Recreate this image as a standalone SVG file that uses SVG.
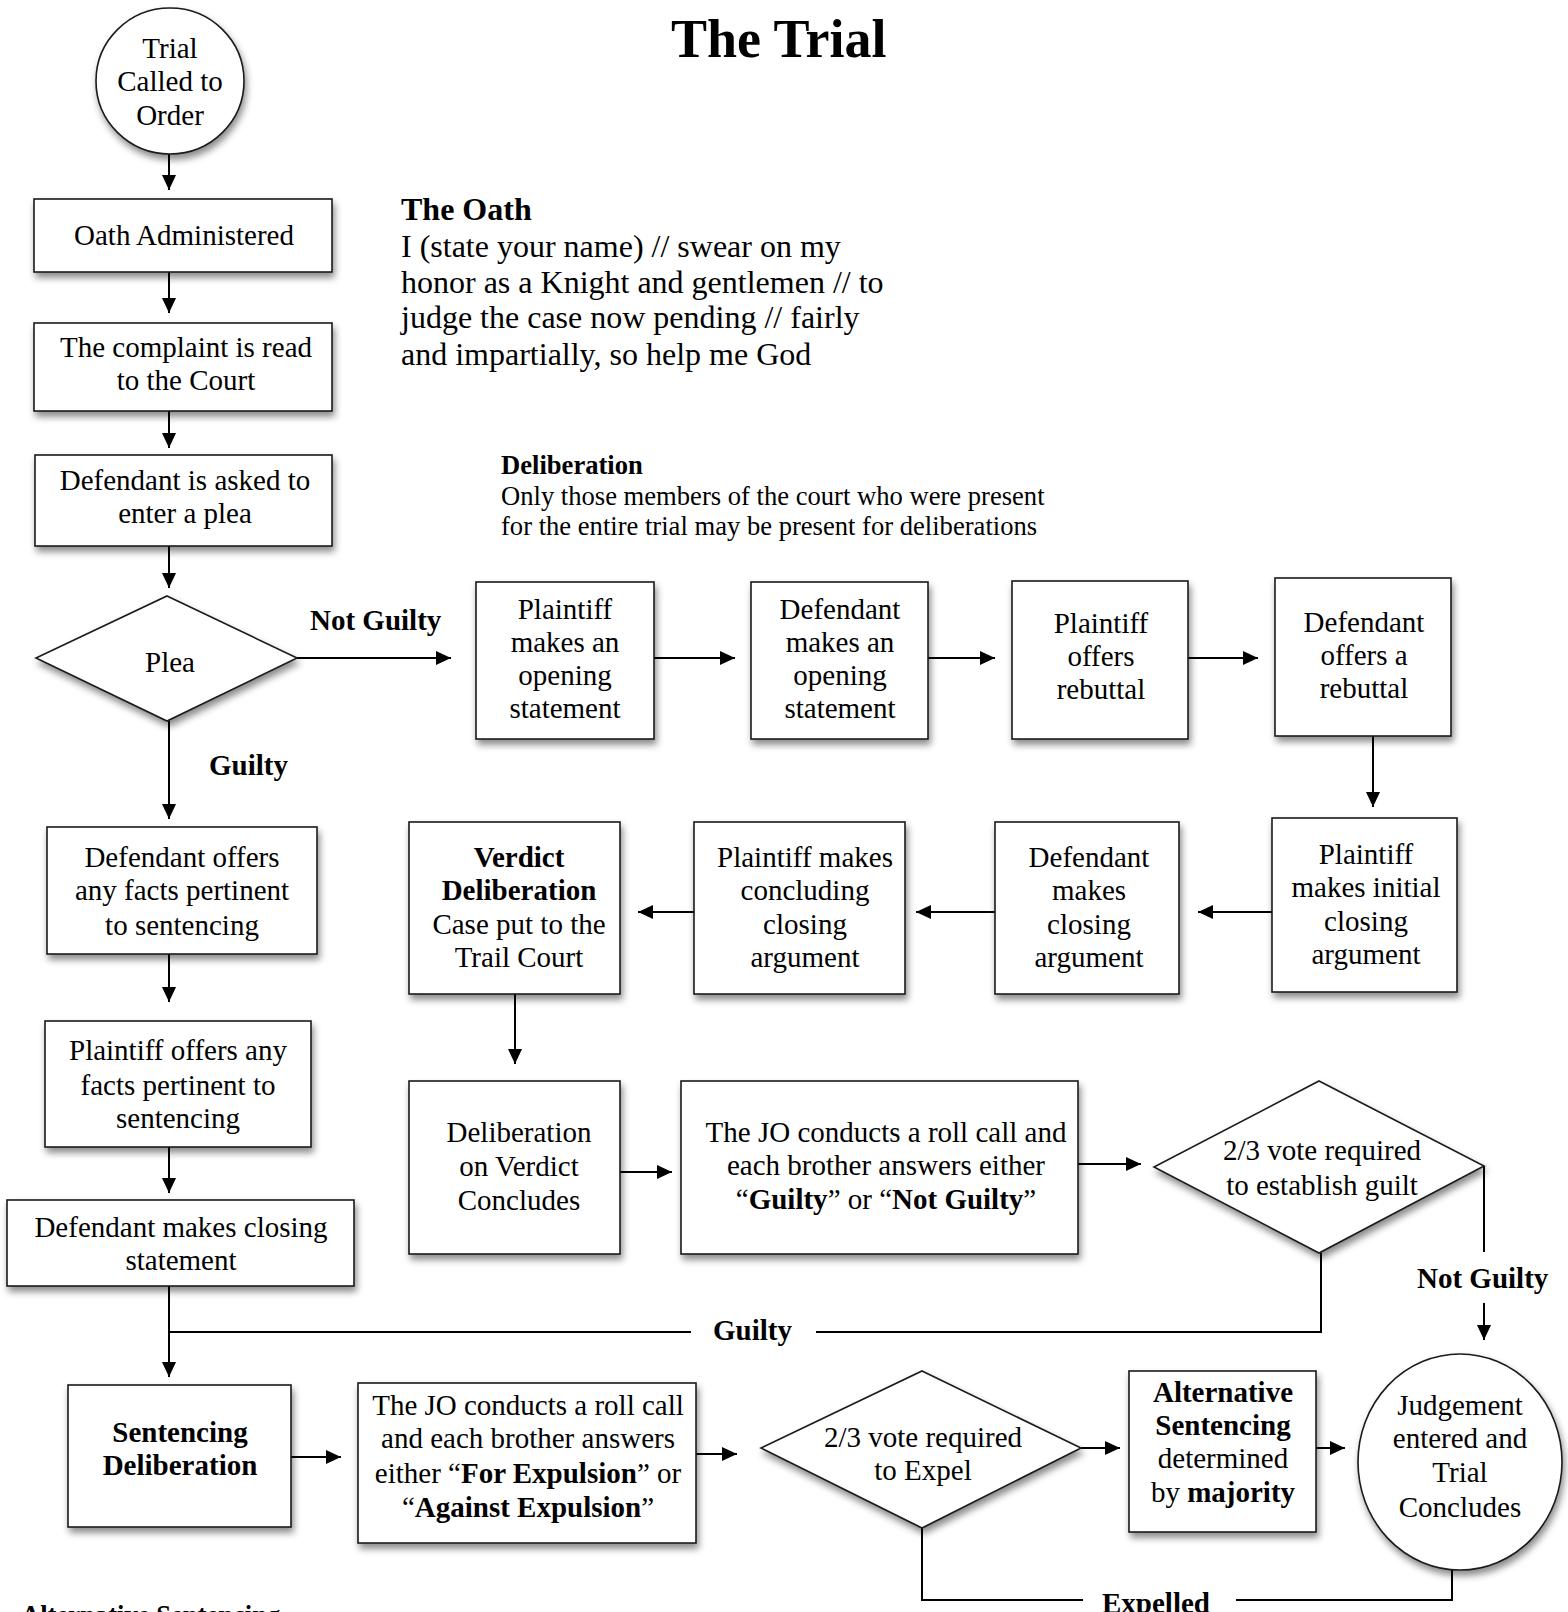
<svg xmlns="http://www.w3.org/2000/svg" width="1568" height="1612" viewBox="0 0 1568 1612">
<defs>
<filter id="sh" x="-10%" y="-10%" width="125%" height="130%">
<feDropShadow dx="2" dy="5" stdDeviation="3.5" flood-color="#000" flood-opacity="0.45"/>
</filter>
<marker id="ah" markerUnits="userSpaceOnUse" markerWidth="16" markerHeight="14" refX="15" refY="7" orient="auto">
<path d="M0,0 L15,7 L0,14 z" fill="#000"/>
</marker>
</defs>
<style>
.box{fill:#fff;stroke:#1a1a1a;stroke-width:1.6;filter:url(#sh)}
.t{font-family:"Liberation Serif","Times New Roman",serif;font-size:29px;text-anchor:middle;fill:#000}
.b{font-weight:bold}
.lbl{font-family:"Liberation Serif","Times New Roman",serif;font-size:29px;font-weight:bold;fill:#000}
.note{font-family:"Liberation Serif","Times New Roman",serif;fill:#000}
.c{stroke:#000;stroke-width:2;fill:none}
.a{stroke:#000;stroke-width:2;fill:none;marker-end:url(#ah)}
</style>
<rect width="1568" height="1612" fill="#fff"/>

<text x="671" y="57" class="note" font-size="54" font-weight="bold">The Trial</text>

<g id="oath-note" class="note">
<text x="401" y="220" font-size="32" font-weight="bold">The Oath</text>
<text x="401" y="257" font-size="32">I (state your name) // swear on my</text>
<text x="401" y="293" font-size="32">honor as a Knight and gentlemen // to</text>
<text x="401" y="328" font-size="32">judge the case now pending // fairly</text>
<text x="401" y="365" font-size="32">and impartially, so help me God</text>
</g>

<g id="delib-note" class="note">
<text x="501" y="474" font-size="26.6" font-weight="bold">Deliberation</text>
<text x="501" y="505" font-size="26.6">Only those members of the court who were present</text>
<text x="501" y="535" font-size="26.6">for the entire trial may be present for deliberations</text>
</g>

<g id="alt-note" class="note">
<text x="21" y="1624" font-size="26.6" font-weight="bold">Alternative Sentencing</text>
</g>

<g id="connectors">
<line class="a" x1="169" y1="154" x2="169" y2="190"/>
<line class="a" x1="169" y1="272" x2="169" y2="313"/>
<line class="a" x1="169" y1="411" x2="169" y2="448"/>
<line class="a" x1="169" y1="546" x2="169" y2="588"/>
<line class="a" x1="169" y1="721" x2="169" y2="819"/>
<line class="a" x1="169" y1="954" x2="169" y2="1002"/>
<line class="a" x1="169" y1="1147" x2="169" y2="1193"/>
<line class="a" x1="169" y1="1286" x2="169" y2="1377"/>
<polyline class="c" points="1321,1253 1321,1332 816,1332"/>
<line class="c" x1="691" y1="1332" x2="169" y2="1332"/>
<line class="a" x1="297" y1="658" x2="451" y2="658"/>
<line class="a" x1="654" y1="658" x2="735" y2="658"/>
<line class="a" x1="928" y1="658" x2="995" y2="658"/>
<line class="a" x1="1188" y1="658" x2="1258" y2="658"/>
<line class="a" x1="1373" y1="736" x2="1373" y2="807"/>
<line class="a" x1="1272" y1="912" x2="1198" y2="912"/>
<line class="a" x1="995" y1="912" x2="916" y2="912"/>
<line class="a" x1="694" y1="912" x2="638" y2="912"/>
<line class="a" x1="515" y1="994" x2="515" y2="1064"/>
<line class="a" x1="620" y1="1172" x2="672" y2="1172"/>
<line class="a" x1="1078" y1="1164" x2="1141" y2="1164"/>
<line class="c" x1="1484" y1="1166" x2="1484" y2="1252"/>
<line class="a" x1="1484" y1="1303" x2="1484" y2="1340"/>
<line class="a" x1="291" y1="1457" x2="341" y2="1457"/>
<line class="a" x1="696" y1="1454" x2="737" y2="1454"/>
<line class="a" x1="1081" y1="1448" x2="1120" y2="1448"/>
<line class="a" x1="1316" y1="1448" x2="1345" y2="1448"/>
<polyline class="c" points="922,1528 922,1600 1083,1600"/>
<polyline class="c" points="1236,1600 1452,1600 1452,1569"/>
<text x="310" y="630" class="lbl">Not Guilty</text>
<text x="209" y="775" class="lbl">Guilty</text>
<text x="713" y="1340" class="lbl">Guilty</text>
<text x="1417" y="1288" class="lbl">Not Guilty</text>
<text x="1102" y="1613" class="lbl">Expelled</text>
</g>

<g id="start">
<ellipse class="box" cx="170" cy="81" rx="74" ry="73"/>
<text class="t" x="170" y="58">Trial</text>
<text class="t" x="170" y="91">Called to</text>
<text class="t" x="170" y="125">Order</text>
</g>

<g id="oath">
<rect class="box" x="34" y="199" width="298" height="73"/>
<text class="t" x="184" y="245">Oath Administered</text>
</g>

<g id="complaint">
<rect class="box" x="34" y="323" width="298" height="88"/>
<text class="t" x="186" y="357">The complaint is read</text>
<text class="t" x="186" y="390">to the Court</text>
</g>

<g id="plea-ask">
<rect class="box" x="35" y="455" width="297" height="91"/>
<text class="t" x="185" y="490">Defendant is asked to</text>
<text class="t" x="185" y="523">enter a plea</text>
</g>

<g id="plea">
<polygon class="box" points="167,596 297,658 167,721 36,658"/>
<text class="t" x="170" y="672">Plea</text>
</g>

<g id="def-facts">
<rect class="box" x="47" y="827" width="270" height="127"/>
<text class="t" x="182" y="867">Defendant offers</text>
<text class="t" x="182" y="900">any facts pertinent</text>
<text class="t" x="182" y="935">to sentencing</text>
</g>

<g id="pl-facts">
<rect class="box" x="45" y="1021" width="266" height="126"/>
<text class="t" x="178" y="1060">Plaintiff offers any</text>
<text class="t" x="178" y="1095">facts pertinent to</text>
<text class="t" x="178" y="1128">sentencing</text>
</g>

<g id="def-closing-stmt">
<rect class="box" x="7" y="1200" width="347" height="86"/>
<text class="t" x="181" y="1237">Defendant makes closing</text>
<text class="t" x="181" y="1270">statement</text>
</g>

<g id="pl-open">
<rect class="box" x="476" y="582" width="178" height="157"/>
<text class="t" x="565" y="619">Plaintiff</text>
<text class="t" x="565" y="652">makes an</text>
<text class="t" x="565" y="685">opening</text>
<text class="t" x="565" y="718">statement</text>
</g>

<g id="def-open">
<rect class="box" x="751" y="582" width="177" height="157"/>
<text class="t" x="840" y="619">Defendant</text>
<text class="t" x="840" y="652">makes an</text>
<text class="t" x="840" y="685">opening</text>
<text class="t" x="840" y="718">statement</text>
</g>

<g id="pl-rebut">
<rect class="box" x="1012" y="581" width="176" height="158"/>
<text class="t" x="1101" y="633">Plaintiff</text>
<text class="t" x="1101" y="666">offers</text>
<text class="t" x="1101" y="699">rebuttal</text>
</g>

<g id="def-rebut">
<rect class="box" x="1275" y="578" width="176" height="158"/>
<text class="t" x="1364" y="632">Defendant</text>
<text class="t" x="1364" y="665">offers a</text>
<text class="t" x="1364" y="698">rebuttal</text>
</g>

<g id="pl-init-close">
<rect class="box" x="1272" y="818" width="185" height="174"/>
<text class="t" x="1366" y="864">Plaintiff</text>
<text class="t" x="1366" y="897">makes initial</text>
<text class="t" x="1366" y="931">closing</text>
<text class="t" x="1366" y="964">argument</text>
</g>

<g id="def-close">
<rect class="box" x="995" y="822" width="184" height="172"/>
<text class="t" x="1089" y="867">Defendant</text>
<text class="t" x="1089" y="900">makes</text>
<text class="t" x="1089" y="934">closing</text>
<text class="t" x="1089" y="967">argument</text>
</g>

<g id="pl-concl-close">
<rect class="box" x="694" y="822" width="211" height="172"/>
<text class="t" x="805" y="867">Plaintiff makes</text>
<text class="t" x="805" y="900">concluding</text>
<text class="t" x="805" y="934">closing</text>
<text class="t" x="805" y="967">argument</text>
</g>

<g id="verdict-delib">
<rect class="box" x="409" y="822" width="211" height="172"/>
<text class="t b" x="519" y="867">Verdict</text>
<text class="t b" x="519" y="900">Deliberation</text>
<text class="t" x="519" y="934">Case put to the</text>
<text class="t" x="519" y="967">Trail Court</text>
</g>

<g id="verdict-concl">
<rect class="box" x="409" y="1081" width="211" height="173"/>
<text class="t" x="519" y="1142">Deliberation</text>
<text class="t" x="519" y="1176">on Verdict</text>
<text class="t" x="519" y="1210">Concludes</text>
</g>

<g id="rollcall-verdict">
<rect class="box" x="681" y="1081" width="397" height="173"/>
<text class="t" x="886" y="1142">The JO conducts a roll call and</text>
<text class="t" x="886" y="1175">each brother answers either</text>
<text class="t" x="886" y="1209">“<tspan class="b">Guilty</tspan>” or “<tspan class="b">Not Guilty</tspan>”</text>
</g>

<g id="guilt-vote">
<polygon class="box" points="1319,1081 1484,1166 1319,1253 1154,1167"/>
<text class="t" x="1322" y="1160">2/3 vote required</text>
<text class="t" x="1322" y="1195">to establish guilt</text>
</g>

<g id="sentencing">
<rect class="box" x="68" y="1385" width="223" height="142"/>
<text class="t b" x="180" y="1442">Sentencing</text>
<text class="t b" x="180" y="1475">Deliberation</text>
</g>

<g id="rollcall-expel">
<rect class="box" x="358" y="1383" width="338" height="160"/>
<text class="t" x="528" y="1415">The JO conducts a roll call</text>
<text class="t" x="528" y="1448">and each brother answers</text>
<text class="t" x="528" y="1483">either “<tspan class="b">For Expulsion</tspan>” or</text>
<text class="t" x="528" y="1517">“<tspan class="b">Against Expulsion</tspan>”</text>
</g>

<g id="expel-vote">
<polygon class="box" points="922,1371 1081,1448 922,1528 761,1448"/>
<text class="t" x="923" y="1447">2/3 vote required</text>
<text class="t" x="923" y="1480">to Expel</text>
</g>

<g id="alt-sentencing">
<rect class="box" x="1129" y="1371" width="187" height="161"/>
<text class="t b" x="1223" y="1402">Alternative</text>
<text class="t b" x="1223" y="1435">Sentencing</text>
<text class="t" x="1223" y="1468">determined</text>
<text class="t" x="1223" y="1502">by <tspan class="b">majority</tspan></text>
</g>

<g id="judgement">
<ellipse class="box" cx="1460" cy="1462" rx="102" ry="108"/>
<text class="t" x="1460" y="1415">Judgement</text>
<text class="t" x="1460" y="1448">entered and</text>
<text class="t" x="1460" y="1482">Trial</text>
<text class="t" x="1460" y="1517">Concludes</text>
</g>
</svg>
